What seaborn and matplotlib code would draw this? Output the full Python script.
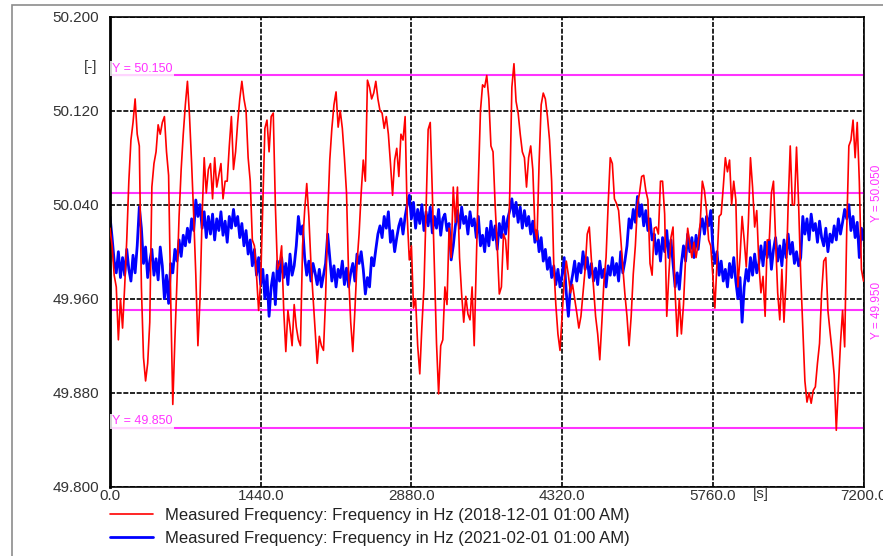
import matplotlib.pyplot as plt
import numpy as np
import pandas as pd
import seaborn as sns
from matplotlib.patches import Rectangle
from matplotlib.ticker import FixedLocator, FormatStrFormatter

STEP_S = 20  # one reading every 20 s over two hours

RED_LABEL = "Measured Frequency: Frequency in Hz (2018-12-01 01:00 AM)"
BLUE_LABEL = "Measured Frequency: Frequency in Hz (2021-02-01 01:00 AM)"

# deviation from 50 Hz in mHz
RED_MHZ = [
    20, 5, -20, -30, -75, -40, -65, -30, 10, 60,
    95, 110, 130, 100, 90, -30, -90, -110, -95, -60,
    55, 75, 85, 108, 100, 110, 115, 85, 65, -40,
    -130, -75, -25, 30, 70, 100, 125, 145, 115, 75,
    30, -20, -80, -40, 30, 80, 50, 70, 75, 45,
    80, 55, 65, 75, 45, 60, 60, 90, 115, 70,
    85, 110, 130, 145, 130, 120, 80, 60, 10, 5,
    -20, -50, -25, 40, 105, 112, 85, 115, 118, 40,
    -15, -10, 5, -50, -85, -50, -64, -80, -45, -64,
    -75, -80, 5, 35, 58, 30, -10, -38, -65, -95,
    -72, -80, -84, -40, 30, 78, 105, 125, 136, 106,
    120, 105, 80, 50, -20, -60, -85, -50, -10, 15,
    50, 78, 60, 146, 140, 130, 135, 145, 130, 120,
    118, 105, 115, 100, 75, 48, 78, 88, 64, 100,
    95, 115, 30, -7, 5, -48, -40, -80, -104, -64,
    -30, 35, 104, 110, 50, -15, -78, -121, -80, -75,
    -30, -45, 20, -5, 55, 25, 55, -5, -36, -60,
    -38, -53, -58, -30, -80, -10, 60, 120, 142, 140,
    150, 130, 90, 85, 40, 5, -36, -30, 15, 10,
    -15, 50, 140, 160, 128, 118, 100, 85, 80, 55,
    80, 90, 70, 20, 10, 75, 125, 135, 130, 115,
    95, 60, -10, -45, -70, -84, -55, -25, -8, -20,
    -35, -28, -40, -52, -65, -55, -35, -15, 15, 21,
    -7, -30, -55, -70, -92, -60, -25, -5, 40, 80,
    75, 45, 41, 35, 12, -13, -36, -55, -80, -55,
    -19, 5, 40, 50, 64, 65, 52, 44, -10, -20,
    20, 21, 15, 60, 60, 32, -55, -20, 12, 21,
    -35, -72, -40, -70, -45, -5, 20, 7, -5, 8,
    -5, 7, 25, 60, 52, 35, 10, 5, -20, -48,
    -10, 30, 32, 55, 80, 68, 78, 40, 60, 44,
    -30, -5, 30, 10, -13, 25, 80, 55, 21, 35,
    -10, -35, -21, -55, 10, 10, 50, 60, 10, -35,
    -58, -15, -60, -25, 40, 90, 40, 40, 89, 40,
    -20, -64, -110, -128, -120, -129, -118, -115, -95, -78,
    -35, -8, -5, -50, -68, -85, -105, -152, -115, -78,
    -50, -81, 20, 90, 95, 112, 80, 110, 60, -15,
    -25,
]

BLUE_MHZ = [
    30, 12, -8, -18, 0, -22, -5, -20, 2, -15,
    -25, -3, -18, 5, 38, 20, -10, 4, -22, -8,
    2, -20, -6, -24, 4, -12, -40, -20, -44, -10,
    -18, 2, -8, 10, -4, 14, 5, 20, 8, 28,
    18, 44, 30, 40, 20, 34, 12, 30, 15, 32,
    10, 28, 18, 34, 14, 26, 8, 30, 20, 36,
    22, 30, 12, 24, 5, 18, -2, 10, -12, 2,
    -20, -5, -28, -15, -40, -20, -55, -30, -18, -45,
    -8, -25, -5, -22, -10, -28, -2, -20, -12, 5,
    30, 15, 22, -5, -20, -8, -25, -10, -18, -28,
    -15, -30, -20, -10, 15, -5, -25, -12, -30, -15,
    -22, -8, -28, -14, -30, -18, -10, -25, -2, -10,
    0, -15, -36, -22, -30, -5, -12, 2, 15, 22,
    12, 30, 20, 34, 8, 18, 0, 12, 22, 28,
    15, 30, 40, 48, 28, 42, 20, 36, 24, 40,
    18, 34, 22, 38, 16, 30, 20, 36, 14, 28,
    32, 18, 24, -7, 5, 22, 35, 20, 38, 24,
    30, 15, 34, 22, 28, 12, 30, 5, 14, 0,
    20, 5, 26, 10, 22, 2, 24, 12, 30, 15,
    28, 35, 45, 30, 42, 25, 38, 20, 35, 22,
    30, 15, 26, 8, 18, 0, 12, -8, 2, -15,
    -5, -22, -12, -28, -15, -30, -20, -5, -35, -55,
    -30, -20, -8, -25, -10, -18, 0, -15, -5, -22,
    -10, -25, -14, -28, -8, -22, -15, -30, -12, -20,
    -5, -20, -10, -25, 0, -18, -8, 5, 28, 20,
    36, 25, 47, 30, 40, 22, 35, 18, 28, 10,
    15, -2, 10, -8, 12, 0, 18, -5, 10, -10,
    -30, -18, -32, -10, 5, -8, 15, 0, 12, -5,
    14, 2, 20, 28, 15, 30, 22, 35, 5, -10,
    0, -20, -8, -25, -15, -30, -10, -22, -5, -25,
    -40, -22, -60, -30, -15, -25, -5, -20, -2, -18,
    -10, 5, -12, 8, -5, 10, -15, 2, 12, -8,
    5, -12, 10, -5, 15, -2, 8, -10, 0, -12,
    -5, 30, 15, 28, 10, 32, 18, 24, 8, 26,
    12, 5, 20, 0, 15, 8, 22, 10, 28, 15,
    25, 36, 28, 40, 18, 30, 12, 25, -5, 20,
    10,
]

LIMIT_LINES = [50.150, 50.050, 49.950, 49.850]
X_TICKS = [0, 1440, 2880, 4320, 5760, 7200]
X_MINOR = [720, 2160, 3600, 5040, 6480]
Y_TICKS = [49.80, 49.88, 49.96, 50.04, 50.12, 50.20]
Y_MINOR = [49.84, 49.92, 50.00, 50.08, 50.16]

MAGENTA = "#ff33ff"
GRID_DASH = (0, (3, 1))


def to_frame(mhz):
    t = np.arange(len(mhz)) * STEP_S
    return pd.DataFrame({"time": t, "freq": 50.0 + np.asarray(mhz) / 1000.0})


def main():
    sns.set_style("white")
    plt.rcParams["font.family"] = ["Liberation Sans", "DejaVu Sans"]

    fig = plt.figure(figsize=(8.83, 5.56), dpi=100)
    ax = fig.add_axes([110 / 883, 1 - 486.7 / 556, 753.5 / 883, 470 / 556])

    sns.lineplot(data=to_frame(RED_MHZ), x="time", y="freq", color="#ff0000",
                 lw=1.2, label=RED_LABEL, estimator=None, zorder=3, ax=ax)
    sns.lineplot(data=to_frame(BLUE_MHZ), x="time", y="freq", color="#0000ff",
                 lw=2.0, label=BLUE_LABEL, estimator=None, zorder=2, ax=ax)

    for y in LIMIT_LINES:
        ax.axhline(y, color=MAGENTA, lw=1.5, zorder=1.8)

    ax.set_xlim(0, 7200)
    ax.set_ylim(49.8, 50.2)
    ax.set_xlabel("")
    ax.set_ylabel("")
    ax.xaxis.set_major_locator(FixedLocator(X_TICKS))
    ax.yaxis.set_major_locator(FixedLocator(Y_TICKS))
    ax.xaxis.set_minor_locator(FixedLocator(X_MINOR))
    ax.yaxis.set_minor_locator(FixedLocator(Y_MINOR))
    ax.xaxis.set_major_formatter(FormatStrFormatter("%.1f"))
    ax.yaxis.set_major_formatter(FormatStrFormatter("%.3f"))
    ax.tick_params(which="major", length=0, labelsize=11, labelcolor="#333333")
    ax.tick_params(axis="x", which="major", pad=2)
    ax.tick_params(axis="y", which="major", pad=8)
    ax.tick_params(which="minor", length=3, width=1.5, direction="in", color="black")
    ax.grid(True, which="major", color="black", ls=GRID_DASH, lw=1.2)

    for name, spine in ax.spines.items():
        spine.set_color("black")
        if name == "left":
            spine.set_linewidth(2)
        else:
            spine.set_linewidth(1.2)
            spine.set_linestyle(GRID_DASH)

    # labels of the limit lines
    for y in (50.150, 49.850):
        ax.text(0.002, y + 0.0005, f"Y = {y:.3f}", transform=ax.get_yaxis_transform(),
                ha="left", va="bottom", fontsize=9, color=MAGENTA,
                bbox=dict(fc="white", ec="none", pad=1.2, alpha=0.8), zorder=4)
    for y in (50.050, 49.950):
        ax.text(1.018, y, f"Y = {y:.3f}", transform=ax.get_yaxis_transform(),
                ha="center", va="center", rotation=90, fontsize=8.5,
                color=MAGENTA, clip_on=False)

    fig.text(91 / 883, 1 - 67 / 556, "[-]", ha="center", va="center",
             fontsize=11, color="#333333")
    fig.text(761 / 883, 1 - 494 / 556, "[s]", ha="center", va="center",
             fontsize=11, color="#333333")

    handles, labels = ax.get_legend_handles_labels()
    ax.get_legend().remove()
    fig.legend(handles, labels, loc="upper left", bbox_to_anchor=(110 / 883, 1 - 508 / 556),
               frameon=False, fontsize=12, handlelength=2.6, handletextpad=0.7,
               borderpad=0, borderaxespad=0, labelspacing=0.45,
               labelcolor="#222222")

    fig.add_artist(Rectangle((12 / 883, -0.02), 1.0, 1 - 5 / 556 + 0.02,
                             transform=fig.transFigure, fill=False,
                             ec="#8c8c8c", lw=1.2))

    fig.savefig("out.png", dpi=100)
    plt.close(fig)


if __name__ == "__main__":
    main()
